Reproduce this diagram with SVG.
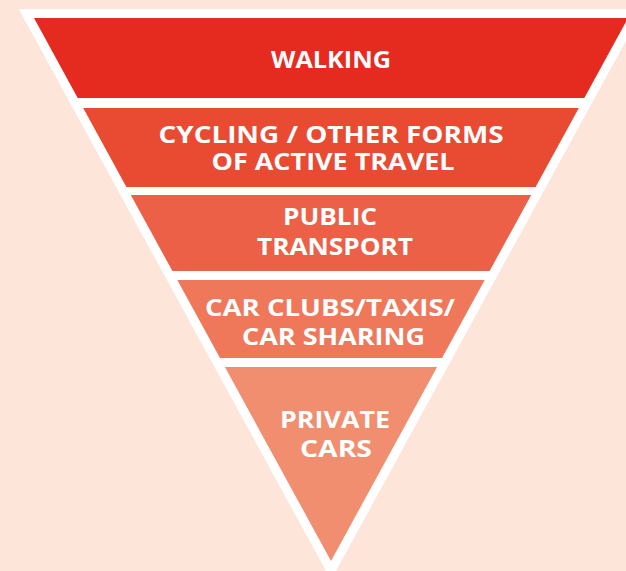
<svg xmlns="http://www.w3.org/2000/svg" width="626" height="571" viewBox="0 0 626 571">
<style>
.lbl{font-family:"Open Sans","Liberation Sans",sans-serif;font-weight:700;font-size:23px;fill:#ffffff;text-anchor:middle}
</style>
<rect width="626" height="571" fill="#fde5da"/>
<polygon id="outline" points="18.7,9 643.3,9 331,580" fill="#ffffff"/>
<g id="walking">
<polygon points="34,18 628,18 584.3,98 77.7,98" fill="#e52b20"/>
<text class="lbl" x="331" y="68" textLength="120" lengthAdjust="spacingAndGlyphs">WALKING</text>
</g>
<g id="cycling">
<polygon points="83.2,108 578.8,108 535.6,187 126.4,187" fill="#e84a32"/>
<text class="lbl" x="331" y="143" textLength="345" lengthAdjust="spacingAndGlyphs">CYCLING / OTHER FORMS</text>
<text class="lbl" x="333" y="170" textLength="243" lengthAdjust="spacingAndGlyphs">OF ACTIVE TRAVEL</text>
</g>
<g id="public-transport">
<polygon points="130.8,195 531.2,195 489.6,271 172.4,271" fill="#eb6046"/>
<text class="lbl" x="330" y="225" textLength="94" lengthAdjust="spacingAndGlyphs">PUBLIC</text>
<text class="lbl" x="335" y="255" textLength="156" lengthAdjust="spacingAndGlyphs">TRANSPORT</text>
</g>
<g id="car-clubs">
<polygon points="177.3,280 484.7,280 442,358 220,358" fill="#ef785a"/>
<text class="lbl" x="330" y="316" textLength="250" lengthAdjust="spacingAndGlyphs">CAR CLUBS/TAXIS/</text>
<text class="lbl" x="333.5" y="345" textLength="183" lengthAdjust="spacingAndGlyphs">CAR SHARING</text>
</g>
<g id="private-cars">
<polygon points="224.9,367 437.1,367 331,561" fill="#f28e70"/>
<text class="lbl" x="335" y="428" textLength="110" lengthAdjust="spacingAndGlyphs">PRIVATE</text>
<text class="lbl" x="336" y="457" textLength="72" lengthAdjust="spacingAndGlyphs">CARS</text>
</g>
<g id="connectors"/>
</svg>
